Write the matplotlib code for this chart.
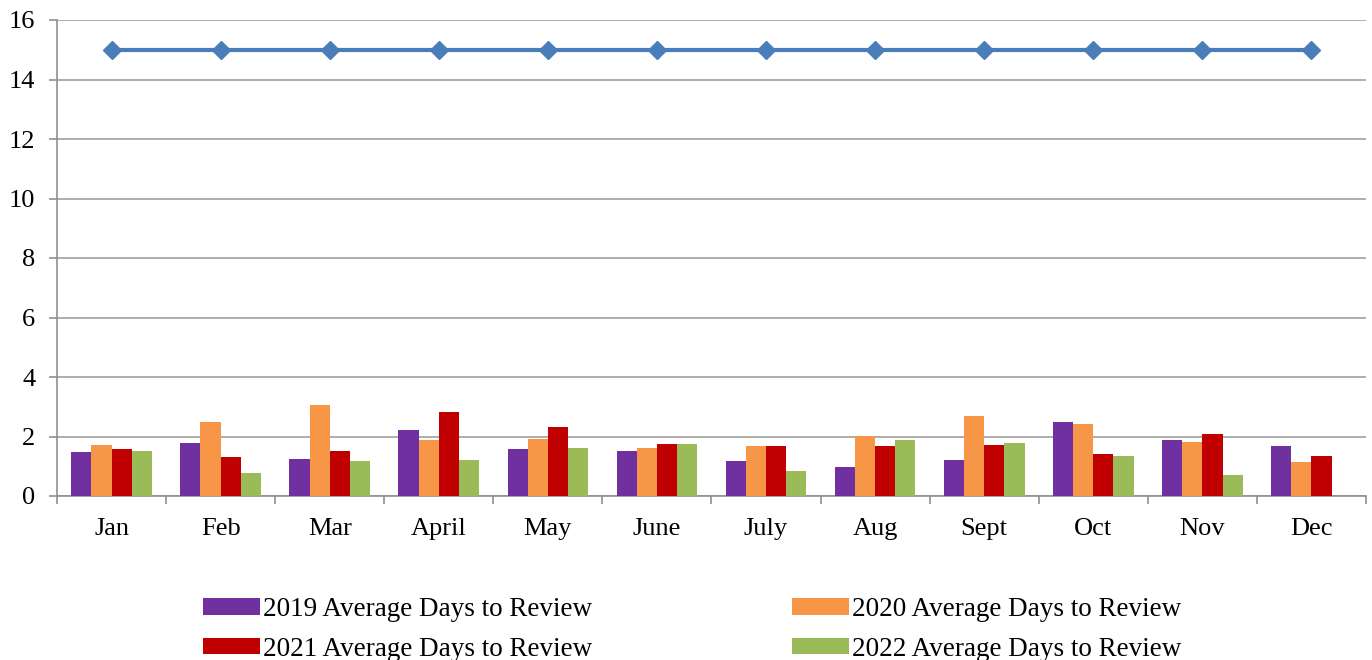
import matplotlib
matplotlib.use("Agg")
import matplotlib.pyplot as plt
from matplotlib.patches import Patch
from matplotlib.ticker import FixedLocator
import numpy as np

plt.rcParams['font.family'] = ['Liberation Serif', 'DejaVu Serif']

months = ["Jan", "Feb", "Mar", "April", "May", "June", "July", "Aug", "Sept", "Oct", "Nov", "Dec"]
avg_2019 = [1.49, 1.77, 1.24, 2.21, 1.59, 1.52, 1.16, 0.99, 1.22, 2.50, 1.89, 1.69]
avg_2020 = [1.70, 2.49, 3.07, 1.89, 1.90, 1.60, 1.69, 2.03, 2.68, 2.41, 1.83, 1.13]
avg_2021 = [1.58, 1.32, 1.52, 2.84, 2.32, 1.74, 1.67, 1.69, 1.71, 1.42, 2.07, 1.36]
avg_2022 = [1.52, 0.76, 1.16, 1.22, 1.63, 1.74, 0.84, 1.87, 1.77, 1.35, 0.70, None]
target = [15] * 12

series = [
    ("2019 Average Days to Review", avg_2019, "#7030A0"),
    ("2020 Average Days to Review", avg_2020, "#F79646"),
    ("2021 Average Days to Review", avg_2021, "#C00000"),
    ("2022 Average Days to Review", avg_2022, "#9BBB59"),
]

fig = plt.figure(figsize=(13.72, 6.6), dpi=100)
ax = fig.add_axes([57/1372, 1 - 496/660, (1366-57)/1372, (496-20)/660])

x = np.arange(len(months))
w = 0.185
offsets = [-1.5*w, -0.5*w, 0.5*w, 1.5*w]
handles = []
for (label, vals, color), off in zip(series, offsets):
    v = np.array([np.nan if a is None else a for a in vals], dtype=float)
    ax.bar(x + off, v, width=w, color=color, zorder=3)
    handles.append(Patch(facecolor=color, label=label))

ax.plot(x, target, color="#4A7EBB", lw=3, marker="D", markersize=9.5, zorder=4)

ax.set_xlim(-0.5, len(months) - 0.5)
ax.set_ylim(0, 16)
ax.set_yticks(np.arange(0, 17, 2))
ax.yaxis.grid(True, color="#A0A0A0", lw=1.2, zorder=0)
ax.set_axisbelow(True)
ax.set_xticks(x)
ax.set_xticklabels(months)
ax.xaxis.set_minor_locator(FixedLocator(np.arange(-0.5, len(months), 1)))
ax.tick_params(axis='x', which='major', length=0, pad=16, labelsize=19)
ax.tick_params(axis='x', which='minor', length=5.5, color="#909090", width=1.2)
ax.tick_params(axis='y', which='major', length=5.5, color="#909090", width=1.2, labelsize=19, pad=10)
for s in ["top", "right"]:
    ax.spines[s].set_visible(False)
for s in ["left", "bottom"]:
    ax.spines[s].set_color("#909090")
    ax.spines[s].set_linewidth(1.2)

# legend fills row by row in the reference: reorder for column-major filling
order = [0, 2, 1, 3]
fig.legend(handles=[handles[i] for i in order], ncol=2, loc="upper left",
           bbox_to_anchor=(203/1372, 1 - 597/660), frameon=False,
           fontsize=19.5, handlelength=2.1, handleheight=0.55, handletextpad=0.1,
           columnspacing=7.4, labelspacing=0.55, borderaxespad=0, borderpad=0)

fig.savefig("out.png", dpi=100)
